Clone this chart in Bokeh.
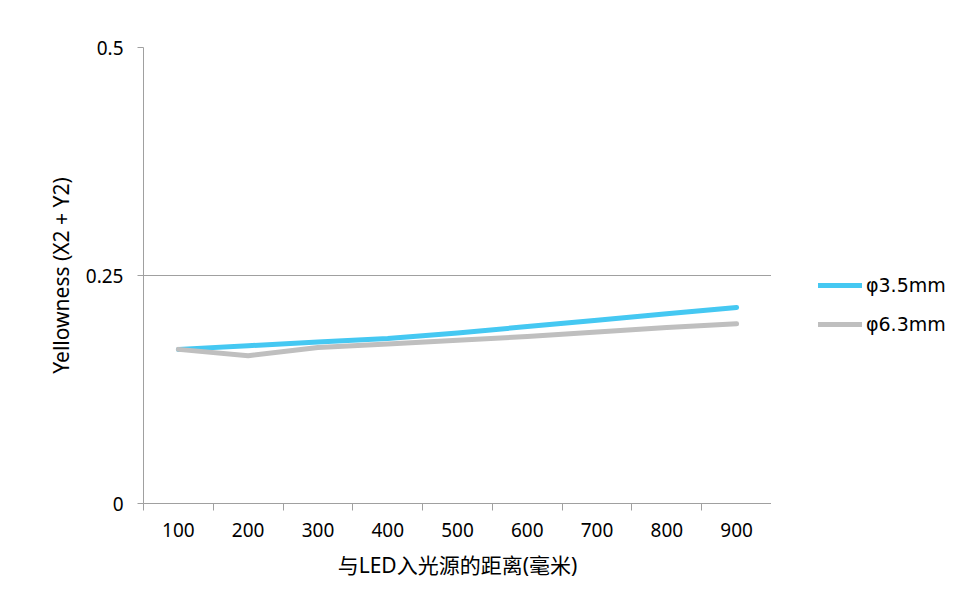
from bokeh.plotting import figure
from bokeh.models import FixedTicker, Legend, LegendItem, Range1d
from bokeh.layouts import row
from bokeh.embed import file_html
from bokeh.resources import INLINE

categories = ["100", "200", "300", "400", "500", "600", "700", "800", "900"]
series_a_name = "φ3.5mm"
series_b_name = "φ6.3mm"
series_a = [0.169, 0.173, 0.177, 0.181, 0.187, 0.194, 0.201, 0.208, 0.215]
series_b = [0.169, 0.162, 0.171, 0.175, 0.179, 0.183, 0.188, 0.193, 0.197]
y_ticks = [0, 0.25, 0.5]
y_labels = {0: "0", 0.25: "0.25", 0.5: "0.5"}

FONT = "Noto Sans, Noto Sans CJK SC"
AXIS_COL = "#a0a0a0"
BLUE = "#45c8f2"
GRAY = "#bfbfbf"

xs = list(range(1, len(categories) + 1))

p = figure(width=771, height=590, output_backend="svg", toolbar_location=None,
           x_range=Range1d(0.5, len(categories) + 0.5), y_range=Range1d(0, 0.5),
           min_border_left=143, min_border_right=0, min_border_top=47, min_border_bottom=87)
p.outline_line_color = None
p.background_fill_color = "white"

p.line(xs, series_a, line_color=BLUE, line_width=5, line_cap="round", line_join="round")
p.line(xs, series_b, line_color=GRAY, line_width=5, line_cap="round", line_join="round")

# x axis: labels at category centers, ticks at category boundaries
p.xaxis.ticker = FixedTicker(ticks=xs, minor_ticks=[i + 0.5 for i in range(0, len(categories) + 1)])
p.xaxis.major_label_overrides = {x: c for x, c in zip(xs, categories)}
p.xaxis.major_tick_line_color = None
p.xaxis.major_tick_out = 0
p.xaxis.major_tick_in = 0
p.xaxis.minor_tick_out = 7
p.xaxis.minor_tick_in = 0
p.xaxis.minor_tick_line_color = AXIS_COL
p.xaxis.axis_line_color = AXIS_COL
p.xaxis.major_label_standoff = 12
p.xaxis.axis_label = "与LED入光源的距离(毫米)"
p.xaxis.axis_label_standoff = 11
p.xgrid.visible = False

p.yaxis.ticker = FixedTicker(ticks=y_ticks)
p.yaxis.major_label_overrides = y_labels
p.yaxis.major_tick_out = 6
p.yaxis.major_tick_in = 0
p.yaxis.major_tick_line_color = AXIS_COL
p.yaxis.minor_tick_line_color = None
p.yaxis.axis_line_color = AXIS_COL
p.yaxis.major_label_standoff = 14
p.yaxis.axis_label = "Yellowness (X2 + Y2)"
p.yaxis.axis_label_standoff = 8
p.ygrid.grid_line_color = AXIS_COL
p.ygrid.ticker = FixedTicker(ticks=[0.25, 0.5])

for ax in (p.xaxis, p.yaxis):
    ax.major_label_text_font = FONT
    ax.major_label_text_font_size = "19px"
    ax.major_label_text_color = "black"
    ax.axis_label_text_font = FONT
    ax.axis_label_text_font_size = "21px"
    ax.axis_label_text_font_style = "normal"
    ax.axis_label_text_color = "black"

# legend in a separate borderless figure to the right
lg = figure(width=197, height=590, output_backend="svg", toolbar_location=None,
            x_range=Range1d(0, 1), y_range=Range1d(0, 1),
            min_border_left=0, min_border_right=0, min_border_top=0, min_border_bottom=0)
lg.axis.visible = False
lg.grid.visible = False
lg.outline_line_color = None
la = lg.line([5, 6], [5, 6], line_color=BLUE, line_width=5, line_cap="round")
lb = lg.line([5, 6], [5, 6], line_color=GRAY, line_width=5, line_cap="round")

legend = Legend(items=[LegendItem(label=series_a_name, renderers=[la]),
                       LegendItem(label=series_b_name, renderers=[lb])],
                location=(47, 168), orientation="vertical")
legend.glyph_width = 44
legend.glyph_height = 20
legend.spacing = 17
legend.label_standoff = 4
legend.padding = 0
legend.margin = 0
legend.border_line_color = None
legend.background_fill_alpha = 0
legend.label_text_font = "DejaVu Sans"
legend.label_text_font_size = "19px"
legend.label_text_color = "black"
lg.add_layout(legend, "center")

layout = row(p, lg, spacing=0)
open("out.html", "w").write(file_html(layout, INLINE))
